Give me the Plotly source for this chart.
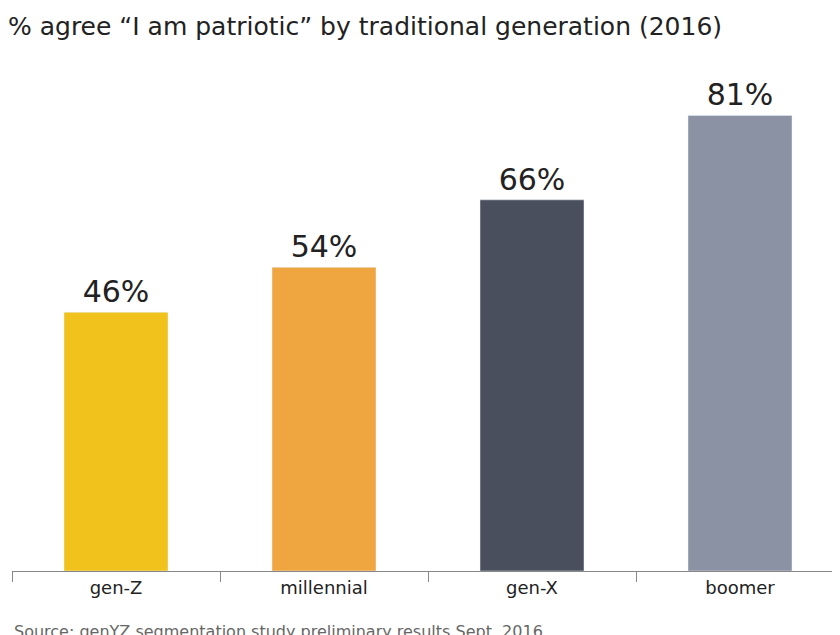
import plotly.graph_objects as go

generations = ["gen-Z", "millennial", "gen-X", "boomer"]
agree_pct = [46, 54, 66, 81]
bar_colors = ["#F1C21B", "#F0A640", "#4A4F5E", "#8A92A3"]

fig = go.Figure(
    go.Bar(
        x=generations,
        y=agree_pct,
        marker_color=bar_colors,
        width=0.5,
        text=[f"{v}%" for v in agree_pct],
        textposition="outside",
        textfont=dict(size=30, color="#222222"),
        cliponaxis=False,
    )
)

fig.update_layout(
    width=840,
    height=635,
    margin=dict(l=4, r=4, t=40, b=72, autoexpand=False),
    paper_bgcolor="white",
    plot_bgcolor="white",
    font=dict(family="DejaVu Sans", color="#333333"),
    title=dict(
        text="% agree “I am patriotic” by traditional generation (2016)",
        x=0, xanchor="left", y=0.972, yanchor="middle",
        font=dict(size=25, color="#222222"),
    ),
    showlegend=False,
    bargap=0.5,
)
fig.update_xaxes(
    showline=True, linecolor="#888888", linewidth=1,
    ticks="outside", tickson="boundaries", ticklen=10, tickcolor="#888888",
    tickfont=dict(size=18, color="#222222"),
)
fig.update_yaxes(visible=False, range=[0, 93])

fig.add_annotation(
    text="Source: genYZ segmentation study preliminary results Sept. 2016",
    xref="paper", yref="paper", x=0, y=-0.115, xanchor="left", yanchor="middle",
    showarrow=False, font=dict(size=16, color="#666666"),
)

fig.write_html("out.html")
